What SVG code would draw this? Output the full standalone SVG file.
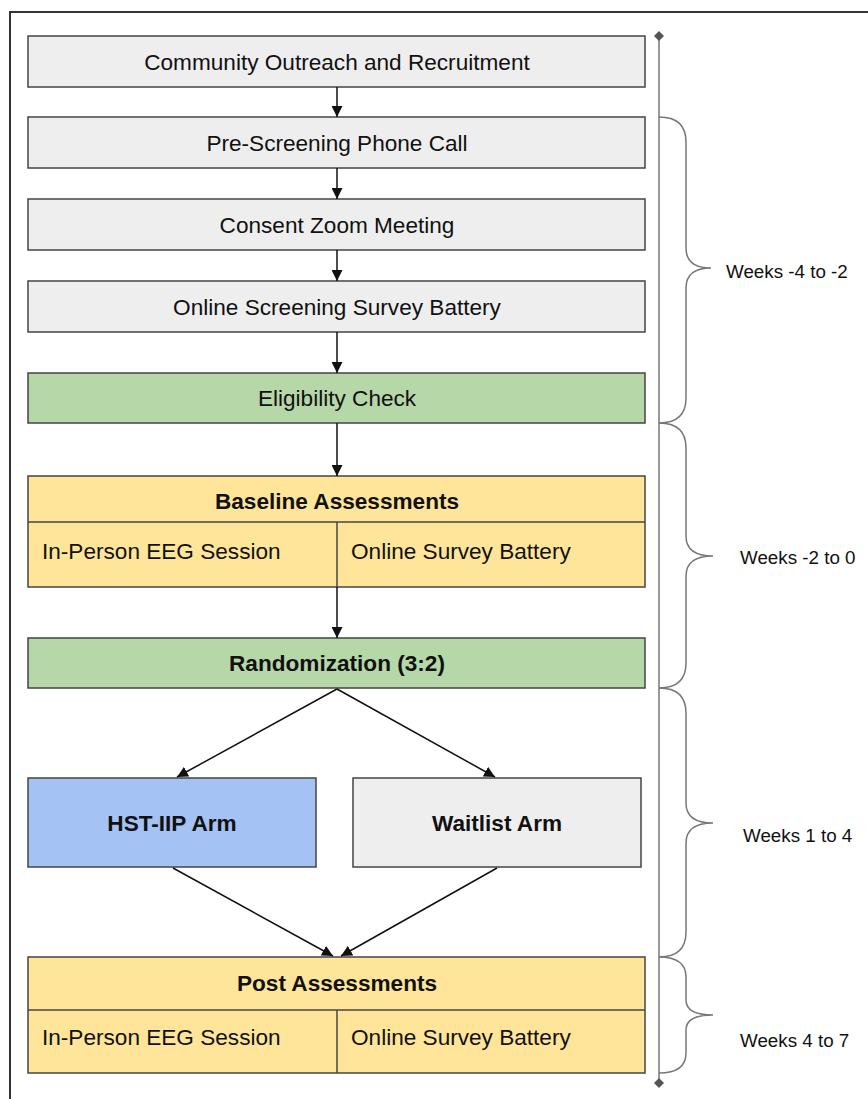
<svg xmlns="http://www.w3.org/2000/svg" width="868" height="1099" viewBox="0 0 868 1099">
<style>
text{font-family:"Liberation Sans",Arial,sans-serif;font-size:22.6px;fill:#111;}
.c{text-anchor:middle;}
.b{font-weight:bold;}
.w{font-size:18.8px;}
.box{stroke:#444;stroke-width:1.5;}
.gray{fill:#eeeeee;}
.green{fill:#b6d7a8;}
.yellow{fill:#ffe599;}
.blue{fill:#a4c2f4;}
.div{stroke:#444;stroke-width:1.5;fill:none;}
.arr{stroke:#111;stroke-width:1.5;fill:none;marker-end:url(#ah);}
.brace{stroke:#777;stroke-width:1.5;fill:none;}
</style>
<defs>
<marker id="ah" viewBox="0 0 10 10" refX="10" refY="5" markerWidth="11" markerHeight="11" markerUnits="userSpaceOnUse" orient="auto">
<path d="M0,0 L10,5 L0,10 z" fill="#111"/>
</marker>
<marker id="dm" viewBox="0 0 10 10" refX="5" refY="5" markerWidth="10" markerHeight="10" markerUnits="userSpaceOnUse">
<path d="M5,0 L10,5 L5,10 L0,5 z" fill="#555"/>
</marker>
</defs>
<rect x="0" y="0" width="868" height="1099" fill="#fff"/>
<rect x="10" y="12" width="900" height="1120" fill="none" stroke="#333" stroke-width="2"/>

<g id="n1"><rect class="box gray" x="28" y="36" width="617" height="51"/><text class="c" x="337" y="70">Community Outreach and Recruitment</text></g>
<g id="n2"><rect class="box gray" x="28" y="117" width="617" height="51"/><text class="c" x="337" y="151">Pre-Screening Phone Call</text></g>
<g id="n3"><rect class="box gray" x="28" y="199" width="617" height="51"/><text class="c" x="337" y="233">Consent Zoom Meeting</text></g>
<g id="n4"><rect class="box gray" x="28" y="281" width="617" height="51"/><text class="c" x="337" y="315">Online Screening Survey Battery</text></g>
<g id="n5"><rect class="box green" x="28" y="373" width="617" height="50"/><text class="c" x="337" y="406">Eligibility Check</text></g>
<g id="n6"><rect class="box yellow" x="28" y="476" width="617" height="111"/><line class="div" x1="28" y1="522" x2="645" y2="522"/><line class="div" x1="337" y1="522" x2="337" y2="587"/><text class="c b" x="337" y="509">Baseline Assessments</text><text x="42" y="559">In-Person EEG Session</text><text x="351" y="559">Online Survey Battery</text></g>
<g id="n7"><rect class="box green" x="28" y="638" width="617" height="50"/><text class="c b" x="337" y="671">Randomization (3:2)</text></g>
<g id="n8"><rect class="box blue" x="28" y="778" width="288" height="89"/><text class="c b" x="172" y="831">HST-IIP Arm</text></g>
<g id="n9"><rect class="box gray" x="353" y="778" width="288" height="89"/><text class="c b" x="497" y="831">Waitlist Arm</text></g>
<g id="n10"><rect class="box yellow" x="28" y="957" width="617" height="116"/><line class="div" x1="28" y1="1010" x2="645" y2="1010"/><line class="div" x1="337" y1="1010" x2="337" y2="1073"/><text class="c b" x="337" y="991">Post Assessments</text><text x="42" y="1045">In-Person EEG Session</text><text x="351" y="1045">Online Survey Battery</text></g>

<g id="connectors">
<line class="arr" x1="337" y1="87" x2="337" y2="117"/>
<line class="arr" x1="337" y1="168" x2="337" y2="199"/>
<line class="arr" x1="337" y1="250" x2="337" y2="281"/>
<line class="arr" x1="337" y1="332" x2="337" y2="373"/>
<line class="arr" x1="337" y1="423" x2="337" y2="476"/>
<line class="arr" x1="337" y1="587" x2="337" y2="638"/>
<line class="arr" x1="337" y1="689" x2="177" y2="777"/>
<line class="arr" x1="337" y1="689" x2="495" y2="777"/>
<line class="arr" x1="173" y1="868" x2="333" y2="956"/>
<line class="arr" x1="497" y1="868" x2="341" y2="956"/>
</g>

<g id="timeline">
<line x1="659" y1="36" x2="659" y2="1083" stroke="#777" stroke-width="1.5" marker-start="url(#dm)" marker-end="url(#dm)"/>
<path class="brace" d="M659,117 Q686,117 686,142 L686,248 Q686,268 711,268 Q686,268 686,288 L686,398 Q686,423 659,423"/>
<path class="brace" d="M659,423 Q686,423 686,448 L686,536 Q686,556 713,556 Q686,556 686,576 L686,663 Q686,688 659,688"/>
<path class="brace" d="M659,688 Q686,688 686,713 L686,803 Q686,823 713,823 Q686,823 686,843 L686,932 Q686,957 659,957"/>
<path class="brace" d="M659,957 Q686,957 686,977 L686,1000 Q686,1015 713,1015 Q686,1015 686,1030 L686,1053 Q686,1073 659,1073"/>
<text class="w" x="726" y="278">Weeks -4 to -2</text>
<text class="w" x="740" y="564">Weeks -2 to 0</text>
<text class="w" x="743" y="842">Weeks 1 to 4</text>
<text class="w" x="740" y="1047">Weeks 4 to 7</text>
</g>
</svg>
